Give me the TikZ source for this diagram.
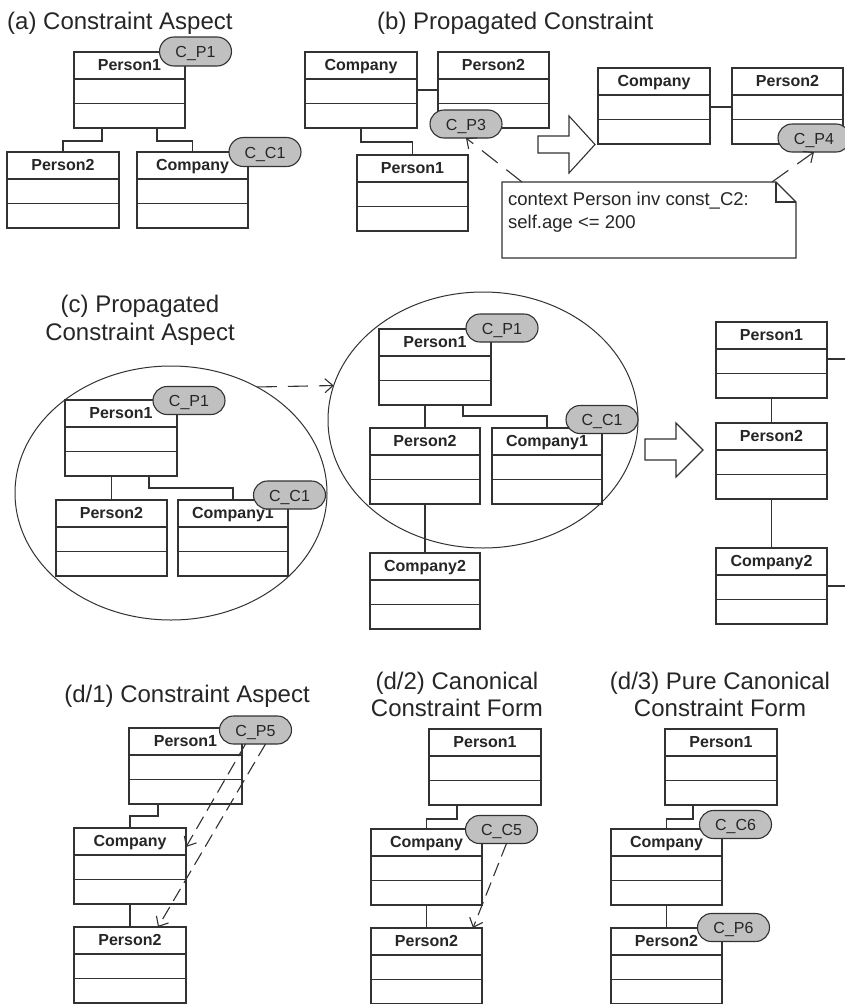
\documentclass[tikz,border=0pt]{standalone}
\usepackage{fontspec}
\setmainfont{Liberation Sans}
\usetikzlibrary{arrows.meta,shapes.misc,shapes.geometric,calc}
\definecolor{linec}{RGB}{50,50,50}
\definecolor{bubfill}{RGB}{192,192,192}
\tikzset{
 clsbox/.style={draw=linec, line width=1.2pt, rectangle, inner sep=0pt, outer sep=0pt, minimum height=76pt, anchor=north west},
 clsname/.style={font=\fontsize{16}{18}\selectfont\bfseries, inner sep=0pt, anchor=base, text=black!85},
 clsdiv/.style={draw=linec, line width=1.2pt},
 conn/.style={draw=linec, line width=1.1pt},
 bubble/.style={draw=linec, line width=1.1pt, fill=bubfill, rounded rectangle, minimum width=72pt, minimum height=28pt, inner sep=0pt, outer sep=0pt, text height=12pt, text depth=0pt, font=\fontsize{16}{18}\selectfont, text=black!85},
 dasharrow/.style={draw=linec, line width=1.1pt, dash pattern=on 20pt off 11pt, -{Straight Barb[length=8pt,width=14pt]}},
 shortdash/.style={dash pattern=on 14pt off 7pt},
 titletext/.style={font=\fontsize{24}{28}\selectfont, inner sep=0pt, anchor=base, text=black!85},
 hollow/.style={draw=linec, line width=1.1pt, fill=white},
 ring/.style={draw=linec, line width=1pt, ellipse, inner sep=0pt, outer sep=0pt},
 notetext/.style={font=\fontsize{18.5}{23}\selectfont, inner sep=0pt, anchor=base west, text=black!85},
}
\newcommand\umlcls[5]{%
 \node[clsbox, minimum width=#4pt] (#1) at (#2,#3) {};
 \node[clsname] (#1-n) at ([yshift=-18.5pt]#1.north) {#5};
 \draw[clsdiv] ([yshift=-27pt]#1.north west) -- ([yshift=-27pt]#1.north east);
 \draw[clsdiv] ([yshift=-51.5pt]#1.north west) -- ([yshift=-51.5pt]#1.north east);
}
\begin{document}
\begin{tikzpicture}[x=1pt,y=-1pt]
\useasboundingbox (0,0) rectangle (845,1004);
\clip (0,0) rectangle (845,1004);
\fill[white] (0,0) rectangle (845,1004);

% ---------- titles
\node[titletext, anchor=base west] (ta) at (7,29) {(a) Constraint Aspect};
\node[titletext, anchor=base west] (tb) at (377,29) {(b) Propagated Constraint};
\node[titletext] (tc1) at (140,312) {(c) Propagated};
\node[titletext] (tc2) at (140,340) {Constraint Aspect};
\node[titletext] (td1) at (187,702) {(d/1) Constraint Aspect};
\node[titletext] (td2a) at (457,689) {(d/2) Canonical};
\node[titletext] (td2b) at (457,716) {Constraint Form};
\node[titletext] (td3a) at (720,689) {(d/3) Pure Canonical};
\node[titletext] (td3b) at (720,716) {Constraint Form};

% ---------- (a)
\umlcls{a1}{74}{52}{111}{Person1}
\umlcls{a2}{7}{152}{112}{Person2}
\umlcls{a3}{137}{152}{111}{Company}
\draw[conn] ([xshift=28pt]a1.south west) -- ++(0,13) -| (a2.north);
\draw[conn] ([xshift=-28pt]a1.south east) -- ++(0,13) -| (a3.north);
\node[bubble, minimum height=29pt] (ab1) at (195.5,51.5) {C\_P1};
\node[bubble, minimum height=29pt] (ab2) at (265,152) {C\_C1};

% ---------- (b)
\umlcls{b1}{305}{52}{112}{Company}
\umlcls{b2}{438}{52}{111}{Person2}
\umlcls{b3}{357}{155}{111}{Person1}
\draw[conn] ([yshift=-38pt]b1.north east) -- ([yshift=-38pt]b2.north west);
\draw[conn] (b1.south) -- ++(0,14) -| (b3.north);
\node[bubble] (cp3) at (466,124) {C\_P3};

\draw[hollow] (538,136) -- (569,136) -- (569,116) -- (595,144.5) -- (569,173) -- (569,153) -- (538,153) -- cycle;

\umlcls{b4}{598}{68}{112}{Company}
\umlcls{b5}{732}{68}{111}{Person2}
\draw[conn] ([yshift=-39pt]b4.north east) -- ([yshift=-39pt]b5.north west);
\node[bubble] (cp4) at (814,138) {C\_P4};

\node[draw=none, minimum width=294pt, minimum height=76pt, inner sep=0pt, outer sep=0pt, anchor=north west] (note) at (502,182) {};
\draw[conn, fill=white] (note.north west) -- ([xshift=-20pt]note.north east) -- ([yshift=-20pt]note.north east) -- (note.south east) -- (note.south west) -- cycle;
\draw[conn] ([xshift=-20pt]note.north east) |- ([yshift=-20pt]note.north east);
\node[notetext] (nt1) at (508,205) {context Person inv const\_C2:};
\node[notetext] (nt2) at (508,228) {self.age <= 200};
\draw[dasharrow] ([xshift=20pt]note.north west) -- (cp3.south);
\draw[dasharrow] ([xshift=-24pt]note.north east) -- (cp4.south);

% ---------- (c)
\node[ring, minimum width=312pt, minimum height=254pt] (e1) at (171,493) {};
\node[ring, minimum width=310pt, minimum height=256pt] (e2) at (483,420) {};

\umlcls{c1}{65}{400}{112}{Person1}
\umlcls{c2}{56}{500}{111}{Person2}
\umlcls{c3}{178}{500}{110}{Company1}
\draw[conn] (c1.south -| c2.north) -- (c2.north);
\draw[conn] ([xshift=-28pt]c1.south east) -- ++(0,12) -| (c3.north);
\node[bubble] (ccp1) at (189,400.5) {C\_P1};
\node[bubble] (ccc1) at (289.5,495) {C\_C1};

\umlcls{c4}{379}{329}{112}{Person1}
\umlcls{c5}{370}{428}{110}{Person2}
\umlcls{c6}{492}{428}{110}{Company1}
\umlcls{c7}{370}{553}{110}{Company2}
\draw[conn] (c4.south -| c5.north) -- (c5.north);
\draw[conn] ([xshift=-28pt]c4.south east) -- ++(0,11) -| (c6.north);
\draw[conn] (c5.south) -- (c7.north);
\node[bubble] (ccp2) at (502,328) {C\_P1};
\node[bubble] (ccc2) at (602,419.5) {C\_C1};

\draw[dasharrow] (e1.51) -- (e2.167);

\draw[hollow] (645,439) -- (676,439) -- (676,423) -- (703,450) -- (676,477) -- (676,460) -- (645,460) -- cycle;

\umlcls{c8}{716}{322}{111}{Person1}
\umlcls{c9}{716}{423}{111}{Person2}
\umlcls{c10}{716}{548}{111}{Company2}
\draw[conn] (c8.south) -- (c9.north);
\draw[conn] (c9.south) -- (c10.north);
\coordinate (s1) at (850,359);
\coordinate (s2) at (850,586);
\draw[conn] ([yshift=-37pt]c8.north east) -- (s1);
\draw[conn] ([yshift=-38pt]c10.north east) -- (s2);

% ---------- (d/1)
\umlcls{d1}{129}{728}{113}{Person1}
\umlcls{d2}{74}{828}{112}{Company}
\umlcls{d3}{74}{927}{112}{Person2}
\draw[conn] ([xshift=29pt]d1.south west) -- ++(0,12) -| (d2.north);
\draw[conn] (d2.south) -- (d3.north);
\node[bubble] (cp5) at (255.5,730) {C\_P5};
\draw[dasharrow, shortdash] ([xshift=-10pt]cp5.south) -- ([yshift=-19pt]d2.north east);
\draw[dasharrow, shortdash] ([xshift=10pt]cp5.south) -- ([xshift=-28pt]d3.north east);

% ---------- (d/2)
\umlcls{d4}{429}{729}{112}{Person1}
\umlcls{d5}{371}{829}{111}{Company}
\umlcls{d6}{371}{928}{111}{Person2}
\draw[conn] ([xshift=28pt]d4.south west) -- ++(0,14) -| (d5.north);
\draw[conn] (d5.south) -- (d6.north);
\node[bubble] (cc5) at (501.5,829.5) {C\_C5};
\draw[dasharrow, shortdash] ([xshift=5pt]cc5.south) -- ([xshift=-9pt]d6.north east);

% ---------- (d/3)
\umlcls{d7}{665}{729}{112}{Person1}
\umlcls{d8}{611}{829}{111}{Company}
\umlcls{d9}{611}{928}{111}{Person2}
\draw[conn] ([xshift=28pt]d7.south west) -- ++(0,14) -| (d8.north);
\draw[conn] (d8.south) -- (d9.north);
\node[bubble] (cc6) at (735.5,824.5) {C\_C6};
\node[bubble] (cp6) at (733.5,927.5) {C\_P6};
\end{tikzpicture}
\end{document}
